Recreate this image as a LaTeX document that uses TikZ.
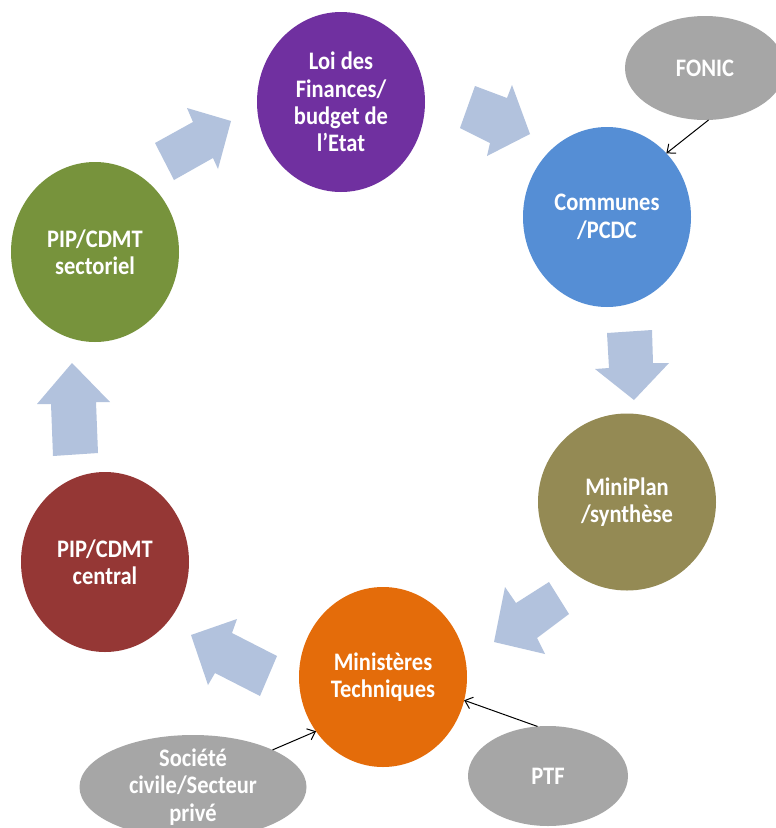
\documentclass[tikz,border=0pt]{standalone}
\usepackage{fontspec}
\setmainfont{Carlito}
\usetikzlibrary{shapes.geometric,arrows.meta}
\definecolor{cpurple}{HTML}{7030A0}
\definecolor{cblue}{HTML}{558ED5}
\definecolor{colive}{HTML}{948A54}
\definecolor{corange}{HTML}{E46C0A}
\definecolor{cred}{HTML}{953735}
\definecolor{cgreen}{HTML}{77933C}
\definecolor{cgray}{HTML}{A6A6A6}
\definecolor{carrow}{HTML}{B2C2DD}
\tikzset{
  blob/.style={ellipse, draw=none, inner sep=0pt, outer sep=0pt, minimum width=168pt, minimum height=180pt},
  grayblob/.style={ellipse, draw=none, fill=cgray, inner sep=0pt, outer sep=0pt},
  txt/.style={text=white, font=\fontsize{22.5}{24.5}\selectfont\bfseries, align=center, inner sep=0pt, transform shape, yscale=1.12},
  bigarrow/.style={fill=carrow, draw=none},
  thinarrow/.style={draw=black, line width=1pt, -{Straight Barb[length=7pt,width=12pt]}}
}
\begin{document}
\begin{tikzpicture}[x=1pt,y=-1pt]
\useasboundingbox (0,0) rectangle (776,828);
\clip (0,0) rectangle (776,828);
\fill[white] (0,0) rectangle (776,828);
% main ellipses
\node[blob, fill=cpurple] (loi) at (341,102) {};
\node[blob, fill=cblue] (com) at (607,217) {};
\node[blob, fill=colive, minimum width=178pt, minimum height=177pt] (mini) at (627,502) {};
\node[blob, fill=corange] (min) at (383,677) {};
\node[blob, fill=cred] (cen) at (105,562) {};
\node[blob, fill=cgreen] (sec) at (95,252) {};
% grey ellipses
\node[grayblob, minimum width=160pt, minimum height=104pt] (fonic) at (705,68) {};
\node[grayblob, minimum width=160pt, minimum height=100pt] (ptf) at (548,776) {};
\node[grayblob, minimum width=227pt, minimum height=104pt] (soc) at (193,787) {};
% texts
\node[txt] (tloi) at (loi.center) {Loi des\\Finances/\\budget de\\l’Etat};
\node[txt] (tcom) at (com.center) {Communes\\/PCDC};
\node[txt] (tmini) at (mini.center) {MiniPlan\\/synthèse};
\node[txt] (tmin) at (min.center) {Ministères\\Techniques};
\node[txt] (tcen) at (cen.center) {PIP/CDMT\\central};
\node[txt] (tsec) at (sec.center) {PIP/CDMT\\sectoriel};
\node[txt] (tfonic) at (fonic.center) {FONIC};
\node[txt] (tptf) at (ptf.center) {PTF};
\node[txt] (tsoc) at (soc.center) {Société\\civile/Secteur\\privé};
% block arrows
\fill[bigarrow] (155,143) -- (193,122) -- (187,108) -- (231,121) -- (218,169) -- (213,158) -- (174,180) -- cycle;
\fill[bigarrow] (460,128) -- (475,86) -- (507,98) -- (512,85) -- (530,134) -- (487,156) -- (490,143) -- cycle;
\fill[bigarrow] (607,333) -- (652,330) -- (653,363) -- (669,363) -- (634,400) -- (595,369) -- (609,368) -- cycle;
\fill[bigarrow] (549,582) -- (569,614) -- (537,638) -- (545,654) -- (494,642) -- (505,587) -- (516,603) -- cycle;
\fill[bigarrow] (191,635) -- (237,619) -- (232,633) -- (277,656) -- (260,696) -- (215,673) -- (208,685) -- cycle;
\fill[bigarrow] (72,363) -- (110,402) -- (96,402) -- (98,453) -- (53,456) -- (51,404) -- (37,404) -- cycle;
% thin arrows
\draw[thinarrow] (fonic.-86) -- (com.47);
\draw[thinarrow] (ptf.102) -- (min.-16);
\draw[thinarrow] (soc.25) -- (min.219);
\end{tikzpicture}
\end{document}
